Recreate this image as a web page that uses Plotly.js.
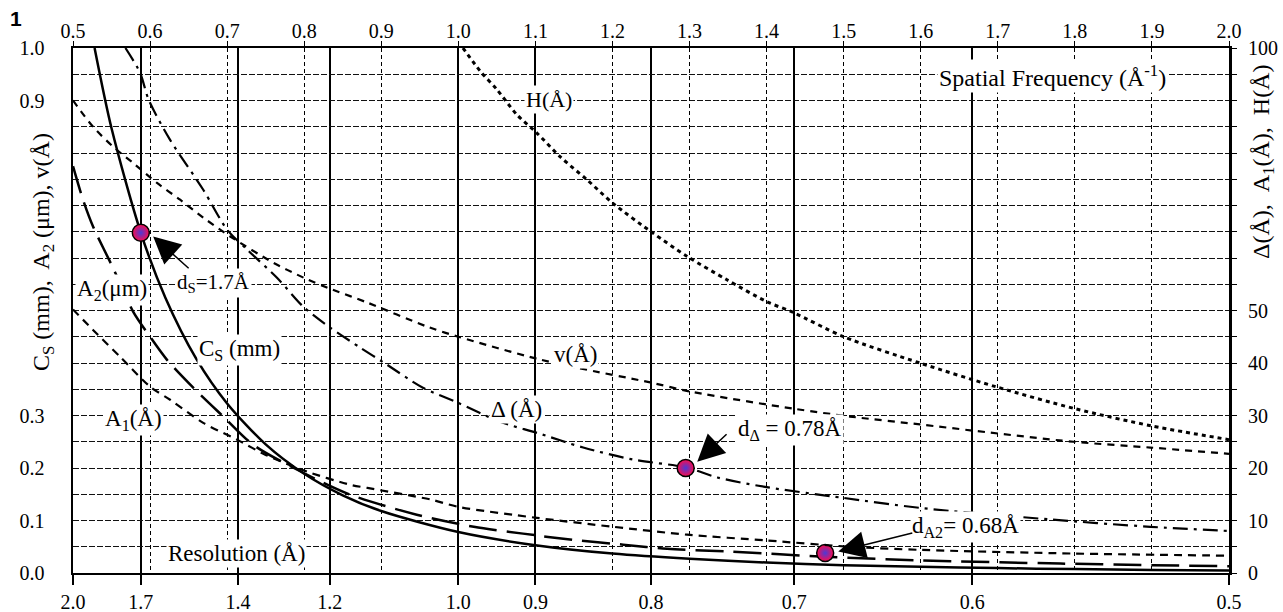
<!DOCTYPE html>
<html><head><meta charset="utf-8">
<script src="https://cdn.plot.ly/plotly-3.0.1.min.js"></script>
<style>html,body{margin:0;padding:0;background:#fff;}#chart{width:1283px;height:612px;}</style>
</head><body><div id="chart"></div>
<script>
// ---- Data (spatial frequency in 1/Å) ----
const csFreq = [0.528, 0.55, 0.588, 0.62, 0.66, 0.70, 0.75, 0.80, 0.85, 0.90, 1.0, 1.1, 1.2, 1.3, 1.4, 1.5, 1.6, 1.7, 1.8, 1.9, 2.0];
const csVal  = [1.0, 0.847, 0.648, 0.524, 0.408, 0.323, 0.245, 0.189, 0.148, 0.118, 0.078, 0.053, 0.037, 0.027, 0.020, 0.015, 0.012, 0.0093, 0.0074, 0.0059, 0.0048];

const a2Freq = [0.5, 0.513, 0.526, 0.551, 0.578, 0.60, 0.622, 0.656, 0.695, 0.734, 0.80, 0.86, 0.946, 1.02, 1.084, 1.149, 1.214, 1.271, 1.353, 1.476, 1.6, 1.781, 1.9, 2.0];
const a2Val  = [0.775, 0.711, 0.660, 0.584, 0.498, 0.450, 0.406, 0.353, 0.298, 0.244, 0.190, 0.149, 0.111, 0.088, 0.075, 0.063, 0.054, 0.046, 0.041, 0.031, 0.024, 0.018, 0.015, 0.013];

const vFreq = [0.5, 0.526, 0.552, 0.578, 0.609, 0.639, 0.669, 0.704, 0.76, 0.80, 0.831, 0.882, 0.96, 1.0, 1.102, 1.154, 1.249, 1.303, 1.435, 1.508, 1.599, 1.669, 1.798, 1.898, 2.0];
const vVal  = [0.90, 0.850, 0.812, 0.781, 0.743, 0.711, 0.677, 0.641, 0.591, 0.562, 0.543, 0.515, 0.469, 0.450, 0.408, 0.391, 0.363, 0.345, 0.313, 0.298, 0.283, 0.271, 0.250, 0.239, 0.227];

const deltaFreq = [0.568, 0.587, 0.598, 0.626, 0.669, 0.70, 0.726, 0.765, 0.799, 0.834, 0.873, 0.903, 0.954, 1.0, 1.054, 1.102, 1.162, 1.227, 1.296, 1.336, 1.398, 1.5, 1.599, 1.768, 1.898, 2.0];
const deltaVal  = [100, 95.3, 90.2, 82.5, 73.0, 65.4, 61.6, 56.2, 50.7, 46.7, 42.9, 40.1, 35.3, 32.4, 28.8, 26.7, 23.9, 21.6, 20.1, 18.2, 16.4, 14.3, 12.4, 10.2, 8.8, 8.0];

const a1Freq = [0.5, 0.526, 0.561, 0.60, 0.626, 0.669, 0.713, 0.75, 0.804, 0.86, 0.882, 0.964, 1.0, 1.102, 1.201, 1.297, 1.4, 1.508, 1.6, 1.8, 2.0];
const a1Val  = [50.2, 46.3, 41.2, 35.5, 33.0, 28.6, 25.4, 22.5, 19.3, 16.8, 16.2, 14.0, 12.6, 10.5, 8.8, 7.3, 6.2, 5.0, 4.4, 3.7, 3.3];

const hFreq = [1.006, 1.029, 1.05, 1.076, 1.102, 1.132, 1.167, 1.2, 1.252, 1.297, 1.348, 1.40, 1.435, 1.5, 1.599, 1.697, 1.8, 1.9, 2.0];
const hVal  = [100, 95.5, 92.1, 87.3, 83.8, 79.3, 74.9, 70.5, 64.8, 60.3, 55.9, 51.7, 49.6, 45.0, 40.0, 35.5, 31.3, 28.0, 25.4];

// highlighted points
const dsPoint = {f: 0.588, v: 0.648};      // Cs at 1.7 Å
const dDeltaPoint = {f: 1.295, v: 20.0};   // Δ at 0.78 Å
const dA2Point = {f: 1.476, v: 0.038};     // A2 at 0.68 Å

// tick labels
const resTickPos  = [0.5, 0.588, 0.714, 0.833, 1.0, 1.1, 1.25, 1.436, 1.667, 2.0];
const resTickText = ['2.0', '1.7', '1.4', '1.2', '1.0', '0.9', '0.8', '0.7', '0.6', '0.5'];
const leftTickVals = [0,0.05,0.1,0.15,0.2,0.25,0.3,0.35,0.4,0.45,0.5,0.55,0.6,0.65,0.7,0.75,0.8,0.85,0.9,0.95,1.0];
const leftTickText = ['0.0','','0.1','','0.2','','0.3','','','','','','','','','','','','0.9','','1.0'];
const rightTickVals = [0,5,10,15,20,25,30,35,40,45,50,55,60,65,70,75,80,85,90,95,100];
const rightTickText = ['0','','10','','20','','30','','40','','50','','','','','','','','','','100'];

// ---- Plot ----
const serif = '"Liberation Serif", "Times New Roman", serif';
const ML = 73, MR = 54, MT = 48, MB = 39, W = 1283, H = 612;
const PW = W - ML - MR, PH = H - MT - MB;
const px = x => (x - ML) / PW;
const py = y => (H - MB - y) / PH;

function curve(xs, ys, dash, width, onRight) {
  return {x: xs, y: ys, type: 'scatter', mode: 'lines', line: {color: '#000', width: width, dash: dash, shape: 'spline', smoothing: 0.8},
    xaxis: onRight ? 'x2' : 'x', yaxis: onRight ? 'y2' : 'y', hoverinfo: 'skip'};
}
function marker(p, onRight) {
  return {x: [p.f], y: [p.v], type: 'scatter', mode: 'markers',
    marker: {size: 17, color: '#ff0a4a', gradient: {type: 'radial', color: '#4a3ad8'}, line: {color: '#000', width: 1.5}},
    xaxis: onRight ? 'x2' : 'x', yaxis: onRight ? 'y2' : 'y', hoverinfo: 'skip'};
}

const traces = [
  curve(hFreq, hVal, '4px,4px', 3, true),
  curve(a1Freq, a1Val, '8px,6px', 2.2, true),
  curve(deltaFreq, deltaVal, '15px,6px,3px,6px', 2.2, true),
  curve(vFreq, vVal, '7px,6px', 2.2, false),
  curve(a2Freq, a2Val, '28px,10px', 2.5, false),
  curve(csFreq, csVal, 'solid', 2.5, false),
  marker(dsPoint, false),
  marker(dDeltaPoint, true),
  marker(dA2Point, false)
];

function label(text, x, y, size) {
  return {text: text, x: x, y: y, xref: 'x', yref: 'y', xanchor: 'center', yanchor: 'middle', showarrow: false,
    font: {family: serif, size: size || 23, color: '#000'}, bgcolor: '#fff', borderpad: 1};
}
function arrow(hx, hy, tx, ty) {
  return {text: '', x: hx, y: hy, ax: tx, ay: ty, xref: 'x', yref: 'y', axref: 'x', ayref: 'y', showarrow: true,
    arrowhead: 2, arrowsize: 3.6, arrowwidth: 1.5, arrowcolor: '#000', standoff: 0};
}

const annotations = [
  label('Spatial Frequency (Å<sup>-1</sup>)', 1.771, 0.947, 24),
  label('H(Å)', 1.118, 0.901, 22),
  label('v(Å)', 1.152, 0.416),
  label('Δ (Å)', 1.075, 0.311),
  label('C<sub>S</sub> (mm)', 0.716, 0.425),
  label('A<sub>2</sub>(μm)', 0.550, 0.540),
  label('d<sub>S</sub>=1.7Å', 0.682, 0.553, 21),
  label('A<sub>1</sub>(Å)', 0.578, 0.292),
  label('Resolution (Å)', 0.712, 0.038),
  label('d<sub>Δ</sub> = 0.78Å', 1.431, 0.273),
  label('d<sub>A2</sub>= 0.68Å', 1.658, 0.088),
  arrow(0.604, 0.641, 0.652, 0.578),
  arrow(1.310, 0.212, 1.350, 0.267),
  arrow(1.493, 0.041, 1.591, 0.077),
  {text: 'C<sub>S</sub> (mm),&nbsp; A<sub>2</sub> (μm), v(Å)', x: px(43), y: py(252), xref: 'paper', yref: 'paper',
    xanchor: 'center', yanchor: 'middle', showarrow: false, textangle: -90, font: {family: serif, size: 24, color: '#000'}},
  {text: 'Δ(Å),&nbsp; A<sub>1</sub>(Å),&nbsp; H(Å)', x: px(1263), y: py(162), xref: 'paper', yref: 'paper',
    xanchor: 'center', yanchor: 'middle', showarrow: false, textangle: -90, font: {family: serif, size: 24, color: '#000'}},
  {text: '<b>1</b>', x: px(16), y: py(19), xref: 'paper', yref: 'paper', xanchor: 'center', yanchor: 'middle', showarrow: false,
    font: {family: '"Liberation Sans", Arial, sans-serif', size: 21, color: '#000'}}
];

const tickFont = {family: serif, size: 20, color: '#000'};
const layout = {
  width: W, height: H,
  margin: {l: ML, r: MR, t: MT, b: MB, pad: 0},
  paper_bgcolor: '#fff', plot_bgcolor: '#fff',
  showlegend: false,
  font: {family: serif, color: '#000'},
  xaxis: {range: [0.5, 2.0], tickmode: 'array', tickvals: resTickPos, ticktext: resTickText, tickfont: tickFont,
    showgrid: true, gridcolor: '#000', gridwidth: 2, ticks: 'outside', ticklen: 10, tickwidth: 2, tickcolor: '#000',
    showline: true, linecolor: '#000', linewidth: 1.5, zeroline: false, fixedrange: true},
  xaxis2: {range: [0.5, 2.0], overlaying: 'x', side: 'top', anchor: 'y2', tickmode: 'linear', tick0: 0.5, dtick: 0.1,
    tickformat: '.1f', tickfont: tickFont, showgrid: true, gridcolor: '#000', gridwidth: 1, griddash: '4px,3px',
    ticks: 'outside', ticklen: 5, tickwidth: 1, tickcolor: '#000', ticklabelstandoff: -5,
    showline: true, linecolor: '#000', linewidth: 2, zeroline: false},
  yaxis: {range: [0, 1.0], tickmode: 'array', tickvals: leftTickVals, ticktext: leftTickText, tickfont: tickFont,
    showgrid: true, gridcolor: '#111', gridwidth: 1, griddash: '6px,2px', ticks: '', ticklabelstandoff: 22,
    showline: true, linecolor: '#000', linewidth: 2.5, zeroline: false},
  yaxis2: {range: [0, 100], overlaying: 'y', side: 'right', anchor: 'x2', tickmode: 'array', tickvals: rightTickVals,
    ticktext: rightTickText, tickfont: tickFont, showgrid: false, ticks: 'outside', ticklen: 5, tickwidth: 1, tickcolor: '#000',
    ticklabelstandoff: 7, showline: true, linecolor: '#000', linewidth: 3, zeroline: false},
  annotations: annotations
};

Plotly.newPlot('chart', traces, layout, {staticPlot: true, displayModeBar: false});
</script></body></html>
